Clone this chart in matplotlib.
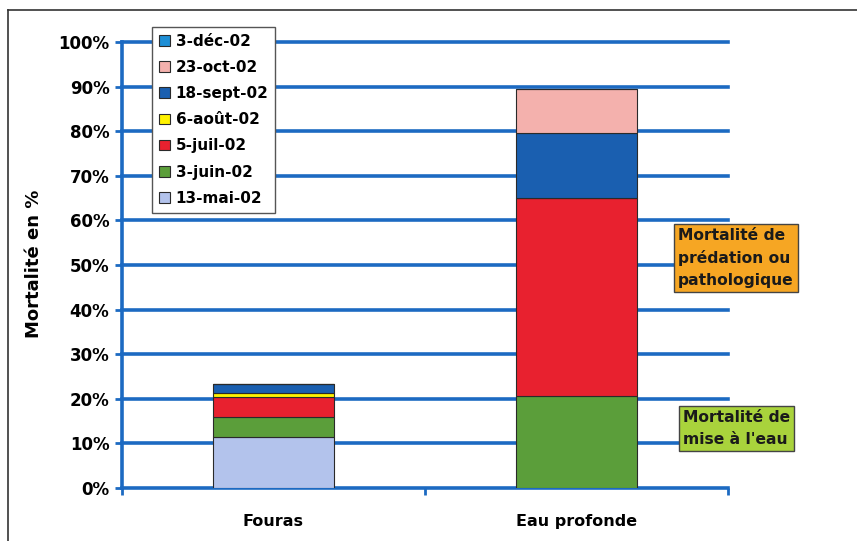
import matplotlib
matplotlib.use("Agg")
import matplotlib.pyplot as plt
from matplotlib.patches import Patch
from matplotlib.lines import Line2D
import numpy as np

plt.rcParams['font.family'] = ['DejaVu Sans']

sites = ["Fouras", "Eau profonde"]
dates = ["13-mai-02", "3-juin-02", "5-juil-02", "6-août-02",
         "18-sept-02", "23-oct-02", "3-déc-02"]
# mortality (%) per sampling date, one list per site
fouras = [11.5, 4.5, 4.3, 0.9, 2.1, 0.0, 0.0]
eau_profonde = [0.0, 20.6, 44.4, 0.0, 14.5, 9.9, 0.0]
colors = ["#b3c3ec", "#5b9e3a", "#e8212f", "#fff200",
          "#1a5fb0", "#f4b1ad", "#1e8fd6"]
y_ticks = [0, 10, 20, 30, 40, 50, 60, 70, 80, 90, 100]
note_top = "Mortalité de\nprédation ou\npathologique"
note_bottom = "Mortalité de\nmise à l'eau"

grid_col = "#1c6ac2"

fig = plt.figure(figsize=(8.57, 5.41), dpi=100)
ax = fig.add_axes([122/857, 53/541, 606/857, 446/541])

x = np.arange(len(sites))
values = np.array([fouras, eau_profonde])
bottom = np.zeros(len(sites))
for i, d in enumerate(dates):
    ax.bar(x, values[:, i], 0.4, bottom=bottom, color=colors[i],
           edgecolor="#2a2a2a", linewidth=0.8, zorder=3)
    bottom += values[:, i]

ax.set_xlim(-0.5, 1.5)
ax.set_ylim(0, 100)
ax.set_yticks(y_ticks)
ax.set_yticklabels([f"{t}%" for t in y_ticks], fontsize=12, fontweight="bold")
for t in y_ticks[1:]:
    ax.axhline(t, color=grid_col, lw=2.6, zorder=1, clip_on=False)

ax.set_xticks([-0.5, 0.5, 1.5])
ax.set_xticklabels([])
ax.tick_params(axis="x", length=5, width=2, color=grid_col, direction="out")
ax.tick_params(axis="y", length=5, width=2, color=grid_col, direction="out", pad=4)
for i, s in enumerate(sites):
    ax.text(i, -5.8, s, ha="center", va="top", fontsize=11.5, fontweight="bold")

for side in ["top", "right"]:
    ax.spines[side].set_visible(False)
for side in ["left", "bottom"]:
    ax.spines[side].set_color(grid_col)
    ax.spines[side].set_linewidth(2.6)

ax.set_ylabel("Mortalité en %", fontsize=13, fontweight="bold")
ax.yaxis.set_label_coords(-0.130, 0.503)

handles = [Patch(facecolor=colors[i], edgecolor="#2a2a2a", linewidth=0.8)
           for i in range(len(dates))][::-1]
leg = ax.legend(handles, dates[::-1], loc="upper left",
                bbox_to_anchor=(30/606, 1 + 15/446), fancybox=False,
                framealpha=1, edgecolor="#555555", handlelength=0.7,
                handleheight=0.7, handletextpad=0.4, labelspacing=0.73,
                borderpad=0.45, borderaxespad=0,
                prop={"size": 11, "weight": "bold"})
leg.get_frame().set_linewidth(1.0)
leg.set_zorder(5)

ax.text(1.335, 51.6, note_top, ha="left", va="center", fontsize=11.2,
        fontweight="bold", color="#1a1a1a", linespacing=1.55,
        bbox=dict(boxstyle="square,pad=0.25", facecolor="#f6a623",
                  edgecolor="#444444", linewidth=1.0),
        clip_on=False, zorder=6)
ax.text(1.35, 13.3, note_bottom, ha="left", va="center", fontsize=11.2,
        fontweight="bold", color="#1a1a1a", linespacing=1.55,
        bbox=dict(boxstyle="square,pad=0.25", facecolor="#a9d33c",
                  edgecolor="#444444", linewidth=1.0),
        clip_on=False, zorder=6)

# frame lines along the top and left of the figure
fig.add_artist(Line2D([8/857, 1], [1 - 10/541, 1 - 10/541],
                      color="#333333", lw=1.2, transform=fig.transFigure))
fig.add_artist(Line2D([8/857, 8/857], [0, 1 - 10/541],
                      color="#333333", lw=1.2, transform=fig.transFigure))

fig.savefig("out.png", dpi=100)
